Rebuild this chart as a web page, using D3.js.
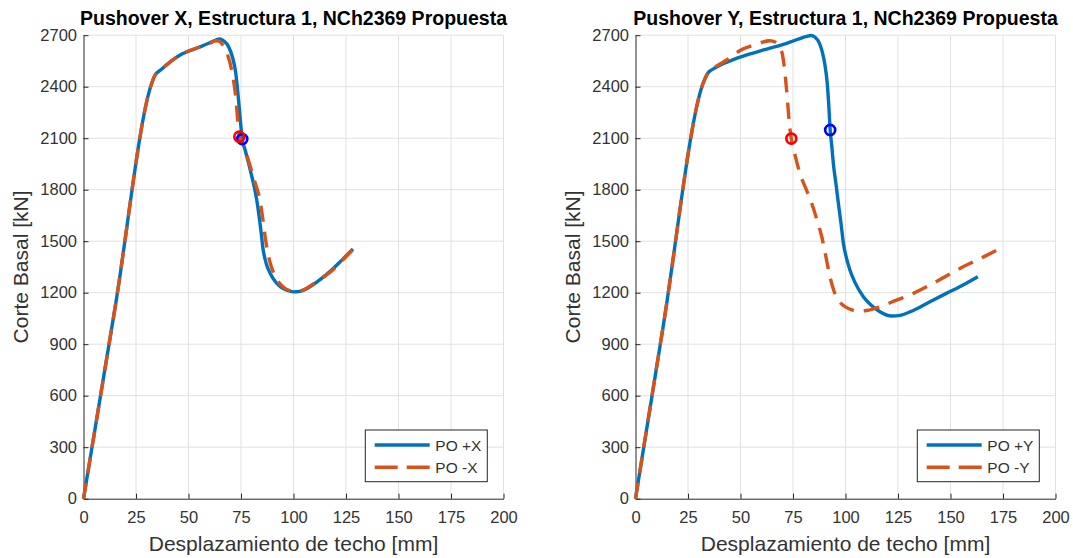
<!DOCTYPE html>
<html>
<head>
<meta charset="utf-8">
<script src="https://cdn.jsdelivr.net/npm/d3@7"></script>
<style>
  body { margin: 0; background: #fff; }
  svg { display: block; }
  text { font-family: "Liberation Sans", Arial, Helvetica, sans-serif; }
</style>
</head>
<body>
<svg id="chart" width="1073" height="558"></svg>
<script>
// Axis ticks (displacement in mm, base shear in kN)
const xTicks = [0, 25, 50, 75, 100, 125, 150, 175, 200];
const yTicks = [0, 300, 600, 900, 1200, 1500, 1800, 2100, 2400, 2700];

// Pushover curves, direction X: [roof displacement mm, base shear kN]
const poPlusX = [
  [0, 0], [15, 1110], [32.5, 2420], [34, 2465], [37, 2500], [46, 2585], [55, 2630],
  [59, 2650], [63, 2672], [65, 2678], [67, 2665], [69, 2635], [71, 2570], [72.5, 2480],
  [74, 2300], [75.6, 2095], [77, 2030], [79.5, 1910], [82.5, 1740], [84.5, 1560],
  [85.5, 1455], [87, 1370], [89, 1310], [91.5, 1262], [94, 1232], [97, 1213],
  [100, 1205], [103, 1208], [106.5, 1225], [112, 1270], [118, 1330], [123, 1390], [128.3, 1455]
];
const poMinusX = [
  [0, 0], [15, 1110], [32.5, 2420], [34, 2465], [37, 2500], [46, 2585], [55, 2630],
  [60, 2652], [63, 2668], [64.5, 2665], [66.5, 2640], [68.5, 2590], [70.5, 2500],
  [72.5, 2340], [74.2, 2109], [76.5, 2050], [78.5, 1973], [81.5, 1850], [84, 1740],
  [85.5, 1620], [86.5, 1526], [87.8, 1430], [89.2, 1361], [91.5, 1290], [95, 1235],
  [98, 1213], [101, 1206], [104, 1212], [108, 1240], [113, 1280], [118, 1325],
  [123, 1385], [128, 1447]
];

// Pushover curves, direction Y
const poPlusY = [
  [0, 0], [13, 990], [32.5, 2430], [34.5, 2480], [38, 2510], [45, 2550], [53, 2585],
  [61, 2614], [70, 2645], [77, 2675], [81.5, 2693], [83.5, 2698], [85.5, 2688],
  [87.5, 2655], [89, 2600], [90.3, 2520], [91.3, 2420], [92, 2300], [92.7, 2148],
  [93.5, 2050], [94.2, 1954], [95.5, 1830], [96.6, 1721], [98, 1590], [99, 1488],
  [100.5, 1400], [102.1, 1332], [104.5, 1260], [108.5, 1177], [112, 1130],
  [116.4, 1089], [122, 1064], [126, 1068], [132.5, 1098], [140, 1146], [148, 1196],
  [156, 1245], [163, 1293]
];
const poMinusY = [
  [0, 0], [13, 990], [32.5, 2430], [34.5, 2480], [38, 2515], [44, 2560], [50, 2612],
  [57, 2645], [64, 2668], [66.5, 2660], [68.5, 2635], [70, 2585], [71, 2500],
  [71.8, 2400], [72.5, 2300], [73.3, 2180], [74.2, 2098], [76, 2000], [78.3, 1895],
  [81, 1810], [83.9, 1721], [86.5, 1620], [88.7, 1526], [90.5, 1420], [92.6, 1293],
  [94.5, 1210], [96.6, 1157], [99, 1125], [102, 1105], [106, 1092], [110, 1096],
  [116.4, 1118], [124, 1155], [132.3, 1196], [144, 1270], [156, 1351], [166, 1410],
  [176, 1472]
];

// Highlighted points on each curve
const markPlusX = [75.6, 2095];
const markMinusX = [74.2, 2109];
const markPlusY = [92.7, 2148];
const markMinusY = [74.2, 2098];

const titles = [
  "Pushover X, Estructura 1, NCh2369 Propuesta",
  "Pushover Y, Estructura 1, NCh2369 Propuesta"
];
const legendNames = [["PO +X", "PO -X"], ["PO +Y", "PO -Y"]];
const xLabel = "Desplazamiento de techo [mm]";
const yLabel = "Corte Basal [kN]";

const BLUE = "#0072BD", ORANGE = "#D95319", AXIS = "#262626", GRID = "#e1e1e1";
const PW = 420, TOP = 35.2, BOTTOM = 498.7;

const panels = [
  { left: 83.5, title: titles[0], pos: poPlusX, neg: poMinusX, names: legendNames[0], mPos: markPlusX, mNeg: markMinusX },
  { left: 635.5, title: titles[1], pos: poPlusY, neg: poMinusY, names: legendNames[1], mPos: markPlusY, mNeg: markMinusY }
];

const svg = d3.select("#chart");

panels.forEach(p => {
  const x = d3.scaleLinear().domain([0, 200]).range([p.left, p.left + PW]);
  const y = d3.scaleLinear().domain([0, 2700]).range([BOTTOM, TOP]);
  const g = svg.append("g");

  // grid
  g.append("g").selectAll("line").data(xTicks.filter(t => t > 0)).join("line")
    .attr("x1", d => x(d)).attr("x2", d => x(d)).attr("y1", TOP).attr("y2", BOTTOM)
    .attr("stroke", GRID).attr("stroke-width", 1);
  g.append("g").selectAll("line").data(yTicks.filter(t => t > 0)).join("line")
    .attr("y1", d => y(d)).attr("y2", d => y(d)).attr("x1", x(0)).attr("x2", x(200))
    .attr("stroke", GRID).attr("stroke-width", 1);

  // axes
  const ax = g.append("g").attr("transform", `translate(0,${BOTTOM})`)
    .call(d3.axisBottom(x).tickValues(xTicks).tickFormat(d3.format("d"))
      .tickSizeInner(-5).tickSizeOuter(0).tickPadding(13));
  const ay = g.append("g").attr("transform", `translate(${x(0)},0)`)
    .call(d3.axisLeft(y).tickValues(yTicks).tickFormat(d3.format("d"))
      .tickSizeInner(-5).tickSizeOuter(0).tickPadding(6.5));
  [ax, ay].forEach(a => {
    a.select(".domain").attr("stroke", AXIS).attr("stroke-width", 1);
    a.selectAll(".tick line").attr("stroke", AXIS);
    a.selectAll(".tick text").attr("fill", "#333").attr("font-size", 16.5)
      .attr("font-family", "'Liberation Sans', Arial, sans-serif");
  });

  // curves
  const line = d3.line().x(d => x(d[0])).y(d => y(d[1])).curve(d3.curveMonotoneX);
  g.append("path").attr("d", line(p.pos)).attr("fill", "none")
    .attr("stroke", BLUE).attr("stroke-width", 3.4).attr("stroke-linejoin", "round");
  g.append("path").attr("d", line(p.neg)).attr("fill", "none")
    .attr("stroke", ORANGE).attr("stroke-width", 3.4).attr("stroke-linejoin", "round")
    .attr("stroke-dasharray", "16,10");

  // markers
  g.append("circle").attr("cx", x(p.mPos[0])).attr("cy", y(p.mPos[1])).attr("r", 5)
    .attr("fill", "none").attr("stroke", "#0000FF").attr("stroke-width", 2.7);
  g.append("circle").attr("cx", x(p.mNeg[0])).attr("cy", y(p.mNeg[1])).attr("r", 5)
    .attr("fill", "none").attr("stroke", "#FF0000").attr("stroke-width", 2.7);

  // title and axis labels
  const cx = p.left + PW / 2;
  g.append("text").attr("x", cx).attr("y", 25).attr("text-anchor", "middle")
    .attr("font-size", 19.5).attr("font-weight", "bold").attr("fill", "#000").text(p.title);
  g.append("text").attr("x", cx).attr("y", 551).attr("text-anchor", "middle")
    .attr("font-size", 21).attr("fill", "#333").text(xLabel);
  g.append("text").attr("transform", `translate(${p.left - 55.5},${(TOP + BOTTOM) / 2}) rotate(-90)`)
    .attr("text-anchor", "middle").attr("font-size", 21).attr("fill", "#333").text(yLabel);

  // legend
  const lx = p.left + 281.8, ly = 430;
  const lg = g.append("g");
  lg.append("rect").attr("x", lx).attr("y", ly).attr("width", 122).attr("height", 51.7)
    .attr("fill", "#fff").attr("stroke", AXIS).attr("stroke-width", 1);
  lg.append("line").attr("x1", lx + 9.4).attr("x2", lx + 64.4).attr("y1", ly + 15).attr("y2", ly + 15)
    .attr("stroke", BLUE).attr("stroke-width", 3.4);
  lg.append("line").attr("x1", lx + 9.4).attr("x2", lx + 64.4).attr("y1", ly + 37.3).attr("y2", ly + 37.3)
    .attr("stroke", ORANGE).attr("stroke-width", 3.4).attr("stroke-dasharray", "23,9,23");
  lg.append("text").attr("x", lx + 70).attr("y", ly + 20.5).attr("font-size", 15.5)
    .attr("fill", "#333").text(p.names[0]);
  lg.append("text").attr("x", lx + 70).attr("y", ly + 42.8).attr("font-size", 15.5)
    .attr("fill", "#333").text(p.names[1]);
});
</script>
</body>
</html>
